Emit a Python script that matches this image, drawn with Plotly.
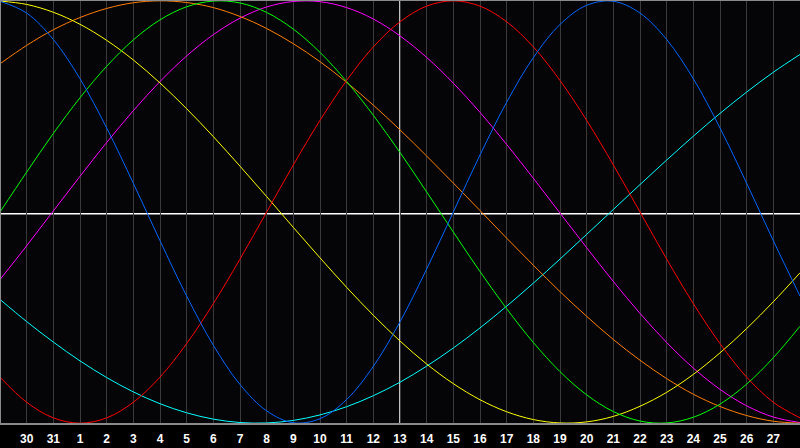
import plotly.graph_objects as go

# Day numbers along the x axis (one per vertical grid line)
days = [29, 30, 31] + list(range(1, 29))
x_pos = list(range(len(days)))  # 0..30
tick_pos = x_pos[1:-1]
tick_text = [str(d) for d in days[1:-1]]

# Daily values (-1 .. 1)
physical = [0.998, 0.942, 0.817, 0.631, 0.398, 0.136, -0.136, -0.398, -0.631, -0.817, -0.942, -0.998, -0.979, -0.888, -0.731, -0.52, -0.27, 0.0, 0.27, 0.52, 0.731, 0.888, 0.979, 0.998, 0.942, 0.817, 0.631, 0.398, 0.136, -0.136, -0.398]
emotional = [-0.782, -0.901, -0.975, -1.0, -0.975, -0.901, -0.782, -0.623, -0.434, -0.223, 0.0, 0.223, 0.434, 0.623, 0.782, 0.901, 0.975, 1.0, 0.975, 0.901, 0.782, 0.623, 0.434, 0.223, 0.0, -0.223, -0.434, -0.623, -0.782, -0.901, -0.975]
intellectual = [0.0, 0.189, 0.372, 0.541, 0.690, 0.815, 0.910, 0.972, 0.999, 0.990, 0.945, 0.866, 0.756, 0.618, 0.458, 0.282, 0.095, -0.095, -0.282, -0.458, -0.618, -0.756, -0.866, -0.945, -0.990, -0.999, -0.972, -0.910, -0.815, -0.690, -0.541]
aesthetic = [0.999, 0.983, 0.946, 0.889, 0.813, 0.720, 0.611, 0.489, 0.357, 0.217, 0.073, -0.073, -0.217, -0.357, -0.489, -0.611, -0.720, -0.813, -0.889, -0.946, -0.983, -0.999, -0.994, -0.968, -0.920, -0.854, -0.769, -0.667, -0.552, -0.425, -0.288]
awareness = [0.702, 0.789, 0.863, 0.921, 0.964, 0.991, 1.0, 0.992, 0.968, 0.926, 0.869, 0.797, 0.712, 0.614, 0.506, 0.389, 0.265, 0.137, 0.007, -0.124, -0.252, -0.377, -0.494, -0.604, -0.702, -0.789, -0.863, -0.921, -0.964, -0.991, -1.0]
intuitive = [-0.32, -0.16, 0.005, 0.169, 0.329, 0.48, 0.618, 0.739, 0.84, 0.918, 0.971, 0.997, 0.996, 0.968, 0.914, 0.834, 0.732, 0.61, 0.472, 0.32, 0.16, -0.005, -0.169, -0.329, -0.48, -0.618, -0.739, -0.84, -0.918, -0.971, -0.997]
spiritual = [-0.414, -0.519, -0.616, -0.705, -0.784, -0.852, -0.908, -0.951, -0.981, -0.997, -0.999, -0.987, -0.961, -0.922, -0.87, -0.806, -0.73, -0.644, -0.549, -0.446, -0.337, -0.223, -0.106, 0.012, 0.13, 0.246, 0.359, 0.467, 0.568, 0.662, 0.746]

series = [
    ("Spiritual", spiritual, "#00ffff"),
    ("Intuitive", intuitive, "#ff00ff"),
    ("Awareness", awareness, "#ff7f00"),
    ("Aesthetic", aesthetic, "#ffff00"),
    ("Intellectual", intellectual, "#00ff00"),
    ("Emotional", emotional, "#ff0000"),
    ("Physical", physical, "#0066ff"),
]

fig = go.Figure()
for name, vals, color in series:
    fig.add_trace(go.Scatter(x=x_pos, y=vals, mode="lines", name=name,
                             line=dict(color=color, width=1, shape="spline"),
                             hoverinfo="skip"))

# white center cross
fig.add_shape(type="line", xref="x", yref="paper", x0=15, x1=15, y0=0, y1=1,
              line=dict(color="#ffffff", width=1.5), layer="below")
fig.add_shape(type="line", xref="paper", yref="y", x0=0, x1=1, y0=-0.008, y1=-0.008,
              line=dict(color="#ffffff", width=1.5), layer="below")
# frame (left, top, bottom)
for (x0, y0, x1, y1) in [(0, 0, 0, 1), (0, 1, 1, 1), (0, 0, 1, 0)]:
    fig.add_shape(type="line", xref="paper", yref="paper", x0=x0, y0=y0, x1=x1, y1=y1,
                  line=dict(color="#8a8a8a", width=2), layer="above")

fig.update_layout(
    width=800, height=448,
    margin=dict(l=0, r=0, t=0, b=24),
    paper_bgcolor="#000000",
    plot_bgcolor="#050508",
    showlegend=False,
    xaxis=dict(range=[0, 30], tickmode="array", tickvals=tick_pos, ticktext=tick_text,
               showgrid=True, gridcolor="#3a3a3a", gridwidth=1, zeroline=False,
               showline=False, ticks="", ticklen=0, ticklabelstandoff=6,
               tickfont=dict(family="Liberation Sans", size=12, color="#ffffff", weight="bold")),
    yaxis=dict(range=[-1.004, 1.004], showgrid=False, zeroline=False, showticklabels=False,
               showline=False),
)

fig.write_html("out.html", config={"displayModeBar": False, "staticPlot": True},
               post_script="document.body.style.margin='0';document.body.style.background='#000';")
